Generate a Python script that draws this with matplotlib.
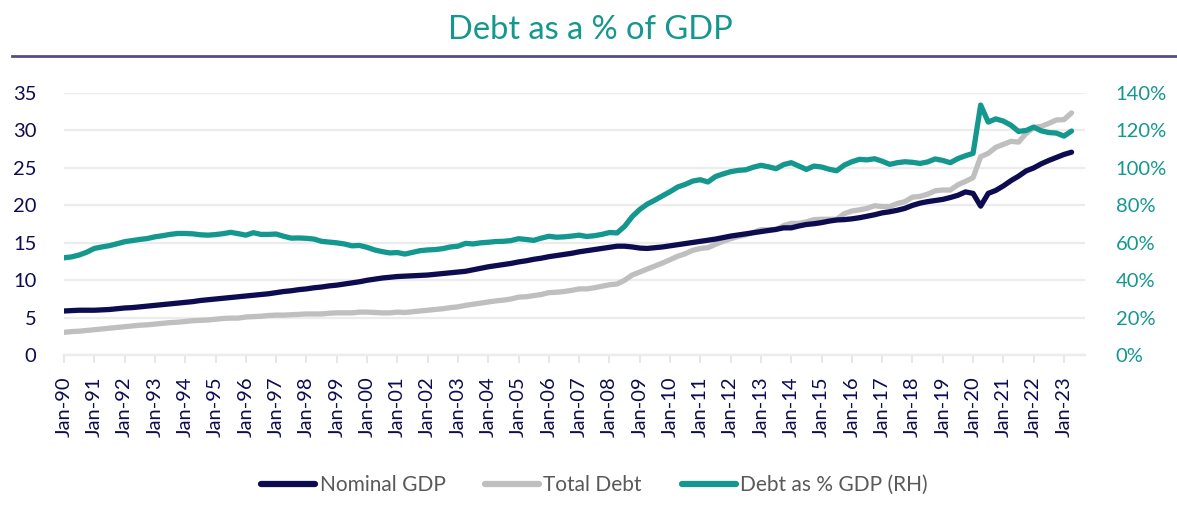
import matplotlib.pyplot as plt
from matplotlib.lines import Line2D

# quarterly data, Q1 1990 .. Q2 2023
nominal_gdp = [
    5.9, 5.95, 6.0, 6.0,
    6.0, 6.05, 6.1, 6.2,
    6.3, 6.35, 6.45, 6.55,
    6.65, 6.75, 6.85, 6.95,
    7.05, 7.15, 7.3, 7.4,
    7.5, 7.6, 7.7, 7.8,
    7.9, 8.0, 8.1, 8.2,
    8.35, 8.5, 8.6, 8.75,
    8.85, 9.0, 9.1, 9.25,
    9.35, 9.5, 9.65, 9.8,
    10.0, 10.15, 10.3, 10.4,
    10.5, 10.55, 10.6, 10.65,
    10.7, 10.8, 10.9, 11.0,
    11.1, 11.2, 11.4, 11.6,
    11.8, 11.95, 12.1, 12.25,
    12.45, 12.6, 12.8, 12.95,
    13.15, 13.3, 13.45, 13.6,
    13.8, 13.95, 14.1, 14.25,
    14.4, 14.55, 14.55, 14.45,
    14.3, 14.25, 14.35, 14.45,
    14.6, 14.75, 14.9, 15.05,
    15.2, 15.35, 15.5, 15.7,
    15.9, 16.05, 16.2, 16.35,
    16.5, 16.65, 16.8, 17.0,
    17.0, 17.25, 17.45, 17.55,
    17.7, 17.9, 18.05, 18.1,
    18.2, 18.35, 18.55, 18.75,
    19.0, 19.15, 19.35, 19.6,
    20.0, 20.3, 20.5, 20.65,
    20.8, 21.05, 21.35, 21.8,
    21.6, 19.9, 21.6, 22.0,
    22.6, 23.3, 23.9, 24.6,
    25.0, 25.55, 26.0, 26.4,
    26.8, 27.1,
]

total_debt = [
    3.05, 3.15, 3.2, 3.3,
    3.4, 3.5, 3.6, 3.7,
    3.8, 3.9, 4.0, 4.05,
    4.15, 4.25, 4.35, 4.4,
    4.5, 4.6, 4.65, 4.7,
    4.8, 4.9, 4.95, 4.95,
    5.1, 5.15, 5.2, 5.3,
    5.35, 5.35, 5.4, 5.45,
    5.5, 5.5, 5.5, 5.6,
    5.65, 5.65, 5.65, 5.75,
    5.75, 5.7, 5.65, 5.65,
    5.75, 5.7, 5.8, 5.9,
    6.0, 6.1, 6.2, 6.35,
    6.45, 6.65, 6.8, 6.95,
    7.1, 7.25, 7.35, 7.5,
    7.75, 7.8, 7.95, 8.1,
    8.35, 8.4, 8.5, 8.65,
    8.85, 8.85, 9.0, 9.2,
    9.4, 9.5, 10.0, 10.7,
    11.1, 11.5, 11.9, 12.3,
    12.75, 13.2, 13.55, 14.0,
    14.25, 14.35, 14.8, 15.2,
    15.55, 15.85, 16.05, 16.4,
    16.75, 16.75, 16.75, 17.3,
    17.6, 17.6, 17.8, 18.1,
    18.15, 18.15, 18.15, 18.9,
    19.25, 19.4, 19.6, 19.95,
    19.85, 19.85, 20.25, 20.5,
    21.1, 21.2, 21.5, 21.95,
    22.05, 22.05, 22.75, 23.2,
    23.7, 26.5, 26.95, 27.75,
    28.15, 28.55, 28.45, 29.6,
    30.4, 30.55, 30.95, 31.4,
    31.45, 32.35,
]

debt_pct_gdp = [
    52.0, 52.5, 53.5, 55.0,
    57.0, 57.8, 58.5, 59.5,
    60.6, 61.2, 61.8, 62.3,
    63.2, 63.8, 64.5, 65.0,
    65.0, 64.8, 64.3, 64.1,
    64.4, 64.9, 65.6, 64.9,
    64.1, 65.4, 64.5, 64.5,
    64.7, 63.5, 62.5, 62.6,
    62.4, 62.0, 60.8, 60.4,
    60.0, 59.4, 58.4, 58.6,
    57.6, 56.2, 55.3, 54.6,
    54.8, 54.0, 54.9, 55.8,
    56.2, 56.4, 56.9, 57.8,
    58.2, 59.7, 59.4, 60.0,
    60.3, 60.7, 60.8, 61.2,
    62.2, 61.8, 61.3, 62.5,
    63.5, 63.0, 63.2, 63.6,
    64.1, 63.4, 63.8, 64.5,
    65.5, 65.3, 68.8, 74.0,
    77.8, 80.7, 82.8, 85.1,
    87.3, 89.8, 91.2, 93.0,
    93.7, 92.5, 95.4, 96.8,
    98.0, 98.7, 99.0, 100.4,
    101.4, 100.6, 99.6, 101.8,
    102.8, 101.0, 99.2, 101.0,
    100.5, 99.3, 98.5, 101.5,
    103.3, 104.6, 104.3, 104.9,
    103.6, 101.9, 102.8, 103.3,
    103.0, 102.4, 103.2, 104.8,
    104.0, 102.8, 105.0, 106.5,
    107.8, 133.6, 124.5, 126.2,
    125.0, 122.8, 119.5, 120.0,
    121.8, 119.8, 118.9, 118.6,
    117.0, 119.7,
]

tick_labels = ["Jan-%02d" % (y % 100) for y in range(1990, 2024)]

NAVY = "#0e0c50"
GREY = "#bfbfbf"
TEAL = "#14978f"
GRID = "#ececec"
FONT = "Lato"

plt.rcParams["font.family"] = [FONT, "DejaVu Sans"]

fig = plt.figure(figsize=(11.77, 5.14), dpi=100)
ax = fig.add_axes([0.0544, 0.309, 0.8676, 0.510])
ax2 = ax.twinx()

x = list(range(len(nominal_gdp)))
l1, = ax.plot(x, nominal_gdp, color=NAVY, lw=3.8, solid_capstyle="round", zorder=3)
l2, = ax.plot(x, total_debt, color=GREY, lw=3.8, solid_capstyle="round", zorder=2)
l3, = ax2.plot(x, debt_pct_gdp, color=TEAL, lw=3.8, solid_capstyle="round", zorder=3)

ax.set_xlim(0, 134.8)
ax.set_ylim(0, 35)
ax2.set_ylim(0, 140)
ax.set_yticks(range(0, 36, 5))
ax2.set_yticks(range(0, 141, 20))
ax2.set_yticklabels(["%d%%" % v for v in range(0, 141, 20)])

ax.set_xticks(range(0, len(tick_labels) * 4, 4))
ax.set_xticklabels(tick_labels, rotation=90)

ax.grid(axis="y", color=GRID, lw=1.6, zorder=0)
ax.set_axisbelow(True)
for a in (ax, ax2):
    for s in ("top", "left", "right"):
        a.spines[s].set_visible(False)
    a.spines["bottom"].set_color(GRID)
    a.spines["bottom"].set_linewidth(1.6)

ax.tick_params(axis="y", length=0, pad=20, labelsize=14.5, labelcolor=NAVY)
ax.tick_params(axis="x", length=6, width=1.2, color="#e3e3e3", pad=9,
               labelsize=14.5, labelcolor=NAVY)
ax2.tick_params(axis="y", length=0, pad=22, labelsize=14.5, labelcolor=TEAL)

fig.text(0.502, 0.942, "Debt as a % of GDP", ha="center", va="center",
         fontsize=23.5, color=TEAL)
fig.add_artist(Line2D([0.010, 1.0], [0.891, 0.891], transform=fig.transFigure,
                      color="#574c86", lw=2))

leg = fig.legend([l1, l2, l3], ["Nominal GDP", "Total Debt", "Debt as % GDP (RH)"],
                 loc="center", bbox_to_anchor=(0.505, 0.056), ncol=3, frameon=False,
                 fontsize=15, labelcolor="#595959", handlelength=2.6,
                 handletextpad=0.2, columnspacing=1.9)
for h in leg.legend_handles:
    h.set_linewidth(4.5)

fig.savefig("out.png", dpi=100)
